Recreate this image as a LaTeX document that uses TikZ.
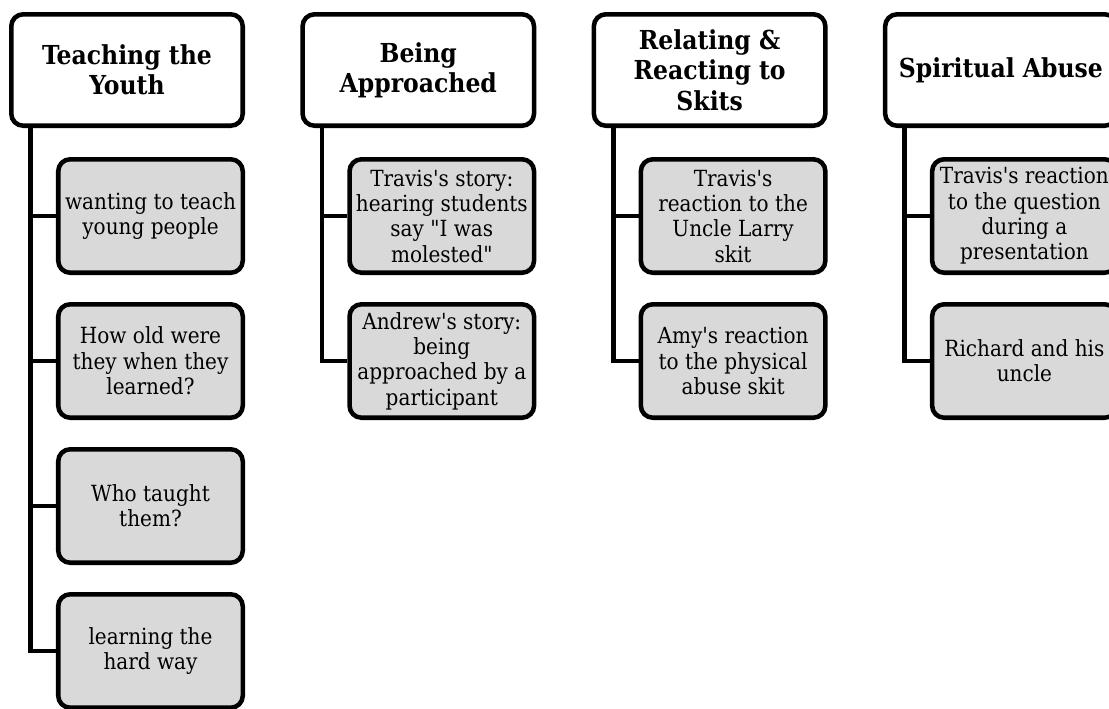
\documentclass[tikz,border=0pt]{standalone}
\usepackage{fontspec}
\setmainfont{DejaVu Serif Condensed}[Ligatures=TeXOff]
\usepackage{tikz}
\usetikzlibrary{calc, positioning}
\usepackage{xcolor}
\definecolor{itemGray}{RGB}{217, 217, 217}

\begin{document}
\begin{tikzpicture}[x=0.75pt, y=-0.75pt,
  head/.style={draw, line width=3.4pt, rounded corners=9pt, fill=white,
    minimum width=173.6pt, minimum height=83.6pt, inner sep=0pt, align=center,
    font=\fontsize{19.6}{22.8}\selectfont\bfseries},
  item/.style={draw, line width=3.4pt, rounded corners=9pt, fill=itemGray,
    minimum width=138.4pt, minimum height=85.1pt, inner sep=0pt, align=center,
    font=\fontsize{16.7}{19}\selectfont},
  link/.style={line width=3.4pt}]
  \clip (0,0) rectangle (1109,708);

  % Teaching the Youth
  \node[head] (h1) at (127,70) {Teaching the\\Youth};
  \node[item] (c11) at (150.5,216) {wanting to teach\\young people};
  \node[item] (c12) at (150.5,361) {How old were\\they when they\\learned?};
  \node[item] (c13) at (150.5,506) {Who taught\\them?};
  \node[item] (c14) at (150.5,651) {learning the\\hard way};

  % Being Approached
  \node[head] (h2) at (418.3,70) {Being\\Approached};
  \node[item] (c21) at (441.8,216) {Travis's story:\\hearing students\\say "I was\\molested"};
  \node[item] (c22) at (441.8,361) {Andrew's story:\\being\\approached by a\\participant};

  % Relating & Reacting to Skits
  \node[head] (h3) at (709.6,70) {Relating \&\\Reacting to\\Skits};
  \node[item] (c31) at (733.1,216) {Travis's\\reaction to the\\Uncle Larry\\skit};
  \node[item] (c32) at (733.1,361) {Amy's reaction\\to the physical\\abuse skit};

  % Spiritual Abuse
  \node[head] (h4) at (1000.9,70) {Spiritual Abuse};
  \node[item] (c41) at (1024.4,216) {Travis's reaction\\to the question\\during a\\presentation};
  \node[item] (c42) at (1024.4,361) {Richard and his\\uncle};

  % Connectors
  \draw[link] ($(h1.south west)+(21.75,0)$) |- (c11.west);
  \draw[link] ($(h1.south west)+(21.75,0)$) |- (c12.west);
  \draw[link] ($(h1.south west)+(21.75,0)$) |- (c13.west);
  \draw[link] ($(h1.south west)+(21.75,0)$) |- (c14.west);
  \draw[link] ($(h2.south west)+(21.75,0)$) |- (c21.west);
  \draw[link] ($(h2.south west)+(21.75,0)$) |- (c22.west);
  \draw[link] ($(h3.south west)+(21.75,0)$) |- (c31.west);
  \draw[link] ($(h3.south west)+(21.75,0)$) |- (c32.west);
  \draw[link] ($(h4.south west)+(21.75,0)$) |- (c41.west);
  \draw[link] ($(h4.south west)+(21.75,0)$) |- (c42.west);
\end{tikzpicture}
\end{document}
